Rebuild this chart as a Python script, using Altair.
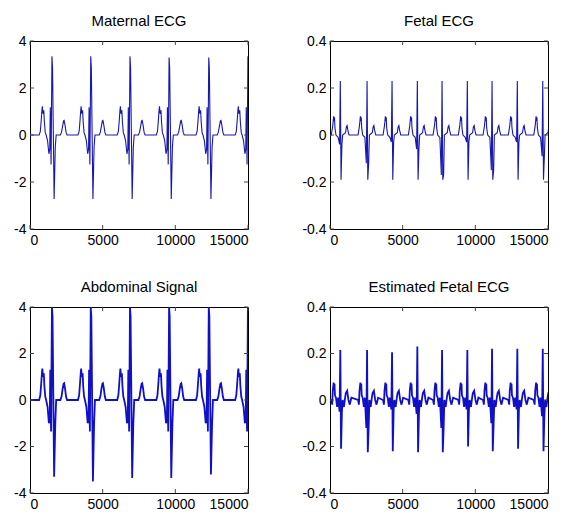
import altair as alt
import pandas as pd

X_MAX = 15000
X_TICKS = [0, 5000, 10000, 15000]
Y_TICKS_M = [-4, -2, 0, 2, 4]
Y_TICKS_F = [-0.4, -0.2, 0, 0.2, 0.4]

# ---------------- Maternal ECG ----------------
maternal_beats = [1510, 4180, 6880, 9570, 12300, 14995]
maternal_r = [3.35, 3.35, 3.35, 3.3, 3.3, 3.35]
maternal_s = [-2.72, -2.72, -2.72, -2.72, -2.72, -2.72]
maternal_offsets = [-880, -800, -740, -690, -660, -630, -600, -560, -520, -460, -400,
                    -300, -210, -150, -115, -60, 0, 40, 150, 230, 290,
                    580, 660, 740, 800, 840, 900, 970, 1040]
maternal_shape = [0.0, 0.15, 0.6, 1.05, 1.22, 1.0, 0.9, 1.05, 0.55, 0.1, 0.0,
                  -0.25, -0.8, -0.6, 1.18, -1.25, "R", 2.85, "S", -0.5, 0.0,
                  0.0, 0.12, 0.4, 0.6, 0.62, 0.42, 0.12, 0.0]

# ---------------- Abdominal signal ----------------
abdominal_beats = [1510, 4180, 6880, 9570, 12300, 14995]
abdominal_r = [4.0, 4.0, 4.0, 4.0, 4.0, 4.0]
abdominal_s = [-3.3, -3.5, -3.35, -3.35, -3.2, -3.3]
abdominal_offsets = [-880, -800, -740, -690, -660, -630, -600, -560, -520, -460, -400,
                     -300, -210, -150, -115, -60, 0, 40, 150, 230, 290,
                     580, 660, 740, 800, 840, 900, 970, 1040]
abdominal_shape = [0.0, 0.2, 0.7, 1.15, 1.35, 1.1, 1.0, 1.15, 0.6, 0.15, 0.0,
                   -0.3, -1.0, -0.8, 1.3, -1.35, "R", 3.6, "S", -1.0, 0.0,
                   0.0, 0.15, 0.5, 0.7, 0.72, 0.5, 0.15, 0.0]

# ---------------- Fetal ECG ----------------
fetal_beats = [710, 2550, 4270, 6010, 7710, 9450, 11150, 12890, 14640]
fetal_r = [0.23, 0.23, 0.23, 0.23, 0.23, 0.23, 0.23, 0.23, 0.23]
fetal_s = [-0.19, -0.19, -0.19, -0.19, -0.19, -0.19, -0.19, -0.19, -0.19]
fetal_dip = [-0.04, -0.12, -0.03, -0.06, -0.17, -0.03, -0.15, -0.03, -0.09]
fetal_offsets = [-620, -520, -460, -430, -400, -370, -300, -150, -50, 0, 50, 110,
                 160, 360, 420, 470, 520, 600]
fetal_shape = [0.0, 0.04, 0.08, 0.06, 0.075, 0.03, 0.0, -0.01, "D", "R", "S", "D",
               0.0, 0.01, 0.035, 0.04, 0.02, 0.0]

# ---------------- Estimated fetal ECG ----------------
est_beats = [710, 2550, 4270, 6010, 7710, 9450, 11150, 12890, 14640]
est_r = [0.215, 0.215, 0.205, 0.23, 0.215, 0.215, 0.22, 0.22, 0.22]
est_s = [-0.21, -0.225, -0.22, -0.225, -0.225, -0.2, -0.22, -0.21, -0.22]
est_dip = [-0.05, -0.12, -0.04, -0.06, -0.12, -0.04, -0.1, -0.04, -0.07]
est_offsets = [-620, -560, -520, -460, -430, -400, -370, -300, -220, -150, -50, 0, 50,
               110, 160, 250, 330, 380, 470, 560, 650, 760]
est_shape = [0.0, -0.02, 0.04, 0.075, 0.05, 0.07, 0.02, 0.01, -0.03, 0.01, "D", "R", "S",
             "D", 0.0, -0.03, 0.01, 0.03, 0.04, 0.0, -0.02, 0.01]


def build(beats, offsets, shape, r, s, dip=None):
    xs, ys = [0], [0.0]
    for i, b in enumerate(beats):
        for off, v in zip(offsets, shape):
            if v == "R":
                v = r[i]
            elif v == "S":
                v = s[i]
            elif v == "D":
                v = dip[i]
            xs.append(b + off)
            ys.append(v)
    xs.append(X_MAX + 400)
    ys.append(0.0)
    return pd.DataFrame({"x": xs, "y": ys})


W = 218
TICK = 4
TICK_COLOR = "#444444"


def panel(df, title, ymax, yticks, height, color, sw):
    xs = alt.Scale(domain=[0, X_MAX], nice=False, zero=False)
    ys = alt.Scale(domain=[-ymax, ymax], nice=False)
    xax = alt.Axis(values=X_TICKS, labelExpr="'' + datum.value", title=None)
    yax = alt.Axis(values=yticks, labelExpr="'' + datum.value", title=None)
    line = alt.Chart(df).mark_line(
        color=color, strokeWidth=sw, clip=True
    ).encode(
        x=alt.X("x:Q", scale=xs, axis=xax),
        y=alt.Y("y:Q", scale=ys, axis=yax),
    )
    xt = pd.DataFrame({"t": X_TICKS})
    yt = pd.DataFrame({"t": yticks})
    xb = alt.Chart(xt).mark_rule(color=TICK_COLOR, strokeWidth=1).encode(
        x=alt.X("t:Q", scale=xs, axis=xax), y=alt.value(height), y2=alt.value(height - TICK))
    xtop = alt.Chart(xt).mark_rule(color=TICK_COLOR, strokeWidth=1).encode(
        x=alt.X("t:Q", scale=xs, axis=xax), y=alt.value(0), y2=alt.value(TICK))
    yl = alt.Chart(yt).mark_rule(color=TICK_COLOR, strokeWidth=1).encode(
        y=alt.Y("t:Q", scale=ys, axis=yax), x=alt.value(0), x2=alt.value(TICK))
    yr = alt.Chart(yt).mark_rule(color=TICK_COLOR, strokeWidth=1).encode(
        y=alt.Y("t:Q", scale=ys, axis=yax), x=alt.value(W), x2=alt.value(W - TICK))
    return alt.layer(line, xb, xtop, yl, yr, title=title).properties(width=W, height=height)


m = panel(build(maternal_beats, maternal_offsets, maternal_shape, maternal_r, maternal_s),
          "Maternal ECG", 4, Y_TICKS_M, 188, "#1818b0", 1.1)
f = panel(build(fetal_beats, fetal_offsets, fetal_shape, fetal_r, fetal_s, fetal_dip),
          "Fetal ECG", 0.4, Y_TICKS_F, 188, "#1818b0", 1.1)
a = panel(build(abdominal_beats, abdominal_offsets, abdominal_shape, abdominal_r, abdominal_s),
          "Abdominal Signal", 4, Y_TICKS_M, 186, "#1010c8", 1.8)
e = panel(build(est_beats, est_offsets, est_shape, est_r, est_s, est_dip),
          "Estimated Fetal ECG", 0.4, Y_TICKS_F, 186, "#1010c8", 1.8)

chart = alt.vconcat(
    alt.hconcat(m, f, spacing=52),
    alt.hconcat(a, e, spacing=52),
    spacing=31,
).configure_view(
    stroke="black", strokeWidth=1
).configure_axis(
    grid=False, domain=False, ticks=False, labelFont="Liberation Sans",
    labelFontSize=14, labelColor="black", labelPadding=4
).configure_title(
    font="Liberation Sans", fontSize=15, fontWeight="normal", color="black", offset=5
).properties(background="white")

chart.save("out.html", embed_options={"renderer": "svg", "actions": False})
